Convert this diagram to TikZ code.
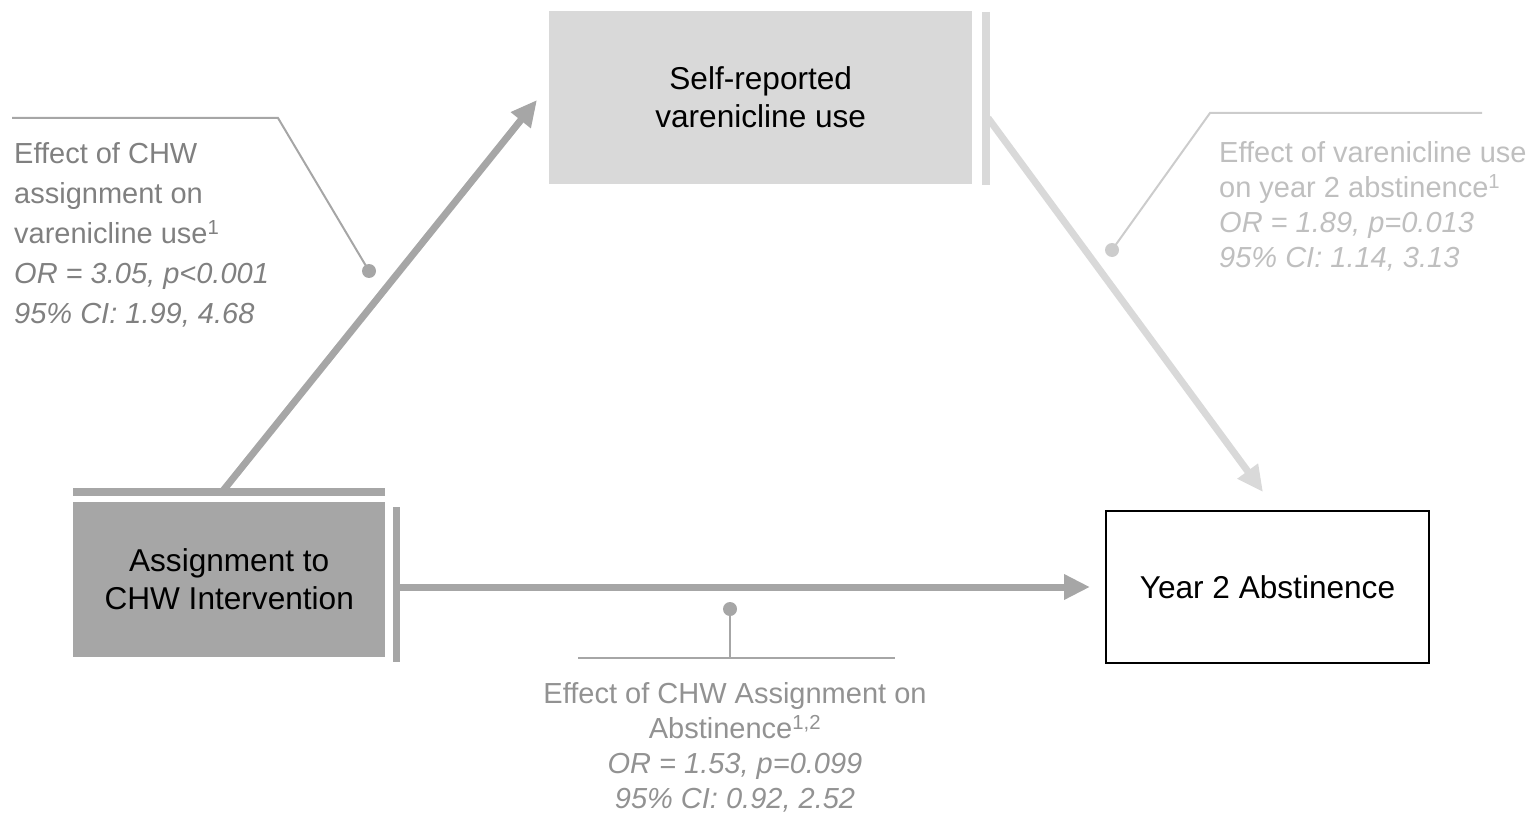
\documentclass[tikz,border=0pt]{standalone}
\usepackage{fontspec}
\setmainfont{Liberation Sans}
\usetikzlibrary{arrows.meta}
\definecolor{gA}{HTML}{A6A6A6}
\definecolor{gD}{HTML}{D9D9D9}
\definecolor{txtL}{HTML}{808080}
\definecolor{txtR}{HTML}{BFBFBF}
\definecolor{txtB}{HTML}{929292}
\definecolor{lnR}{HTML}{CCCCCC}
\tikzset{
  boxtext/.style={font=\fontsize{31.6}{38}\selectfont, align=center, inner sep=0pt, text=black},
  bar/.style={line width=7.5pt},
  bigarrow/.style={line width=7pt, -{Triangle[length=26pt,width=24pt]}},
  callout/.style={line width=2pt},
  dotmark/.style={circle, inner sep=0pt, minimum size=14pt},
  noteL/.style={font=\fontsize{29}{40}\selectfont, align=left, inner sep=0pt, text=txtL},
  noteR/.style={font=\fontsize{29}{35}\selectfont, align=left, inner sep=0pt, text=txtR},
  noteB/.style={font=\fontsize{29}{35}\selectfont, align=center, inner sep=0pt, text=txtB},
}
\begin{document}
\begin{tikzpicture}[x=1pt,y=-1pt]
\useasboundingbox (0,0) rectangle (1534,813);
% boxes
\node[boxtext, fill=gA, minimum width=312pt, minimum height=155pt, anchor=north west] (assign) at (73,502) {Assignment to\\CHW Intervention};
\node[boxtext, fill=gD, minimum width=423pt, minimum height=173pt, anchor=north west] (self) at (549,11) {Self-reported\\varenicline use};
\node[boxtext, draw=black, line width=2pt, minimum width=323pt, minimum height=152pt, anchor=north west] (year) at (1105,510) {Year 2 Abstinence};
% bars
\draw[bar, gA] (73,492) -- (385,492);
\draw[bar, gA] (396.5,507) -- (396.5,662);
\draw[bar, gD] (986,12) -- (986,185);
% arrows
\coordinate (aStart) at (222,492);
\coordinate (aEnd) at (537,100);
\draw[bigarrow, gA] (aStart) -- (aEnd);
\coordinate (bStart) at (988,118);
\coordinate (bEnd) at (1263,492);
\draw[bigarrow, gD] (bStart) -- (bEnd);
\coordinate (cStart) at (400,587);
\coordinate (cEnd) at (1090,587);
\draw[bigarrow, gA] (cStart) -- (cEnd);
% left callout
\node[dotmark, fill=gA] (dL) at (369,271) {};
\coordinate (lA) at (12,118);
\coordinate (lB) at (278,118);
\draw[callout, gA] (lA) -- (lB) -- (dL.center);
\node[noteL, anchor=north west] (nL) at (14,142) {Effect of CHW\\assignment on\\varenicline use\textsuperscript{1}\\\itshape OR = 3.05, p<0.001\\\itshape 95\% CI: 1.99, 4.68};
% right callout
\node[dotmark, fill=lnR] (dR) at (1112,250) {};
\coordinate (rA) at (1482,113);
\coordinate (rB) at (1210,113);
\draw[callout, lnR] (rA) -- (rB) -- (dR.center);
\node[noteR, anchor=north west] (nR) at (1219,141) {Effect of varenicline use\\on year 2 abstinence\textsuperscript{1}\\\itshape OR = 1.89, p=0.013\\\itshape 95\% CI: 1.14, 3.13};
% bottom callout
\node[dotmark, fill=gA] (dB) at (730,609) {};
\coordinate (bA) at (578,658);
\coordinate (bB) at (895,658);
\coordinate (bM) at (730,658);
\draw[callout, gA] (bA) -- (bB);
\draw[callout, gA] (dB.center) -- (bM);
\node[noteB, anchor=north] (nB) at (735,682) {Effect of CHW Assignment on\\Abstinence\textsuperscript{1,2}\\\itshape OR = 1.53, p=0.099\\\itshape 95\% CI: 0.92, 2.52};
\end{tikzpicture}
\end{document}
